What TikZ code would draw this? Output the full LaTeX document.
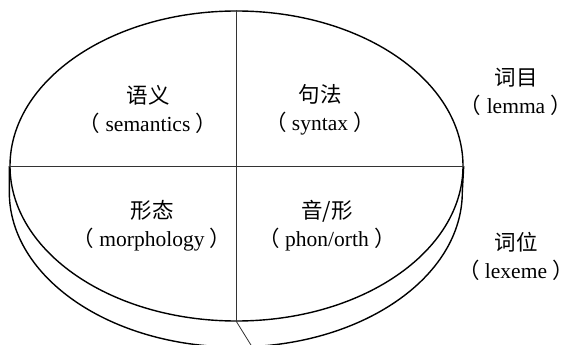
\documentclass[tikz,border=0pt]{standalone}
\usepackage{fontspec}
\setmainfont{Liberation Serif}
\newfontfamily\cjk{Noto Sans CJK SC}
\usetikzlibrary{shapes.geometric, calc}

\newcommand{\zh}[1]{{\cjk #1}}
\newcommand{\paren}[1]{\makebox[0.62em][r]{\zh{（}}#1\makebox[0.62em][l]{\zh{）}}}

\begin{document}
\begin{tikzpicture}[
  x=1pt, y=-1pt,
  disk/.style={ellipse, draw=black, line width=1.4pt, inner sep=0pt,
               minimum width=453pt, minimum height=310pt},
  rim/.style={draw=black, line width=1.4pt},
  divider/.style={draw=black!80, line width=0.8pt},
  lbl/.style={align=center, inner sep=1pt, font=\fontsize{21.5}{28}\selectfont},
]
\path[use as bounding box] (0,0) rectangle (570,345);
\clip (0,0) rectangle (570,345);

% ---- the disk: word seen from above, with its lower rim ----
\node[disk] (top) at (236.5,166) {};
\draw[rim] (top.west) -- ++(0,26)
  arc[start angle=180, end angle=0, x radius=226.5, y radius=155] -- (top.east);

\draw[divider] (top.west) -- (top.east);
\draw[divider] (top.north) -- (top.south);
\coordinate (tail) at (259,358);
\draw[divider] (top.south) -- (tail);

% ---- the four parts ----
\node[lbl] (sem) at (148,109.5) {\zh{语义}\\\paren{ semantics }};
\node[lbl] (syn) at (320,109.5) {\zh{句法}\\\paren{ syntax }};
\node[lbl] (mor) at (152,226) {\zh{形态}\\\paren{ morphology }};
\node[lbl] (pho) at (327,226) {\zh{音/形}\\\paren{ phon/orth }};

% ---- right side ----
\node[lbl] (lem) at (516,92) {\zh{词目}\\\paren{ lemma }};
\node[lbl] (lex) at (516,256) {\zh{词位}\\\paren{ lexeme }};

\end{tikzpicture}
\end{document}
